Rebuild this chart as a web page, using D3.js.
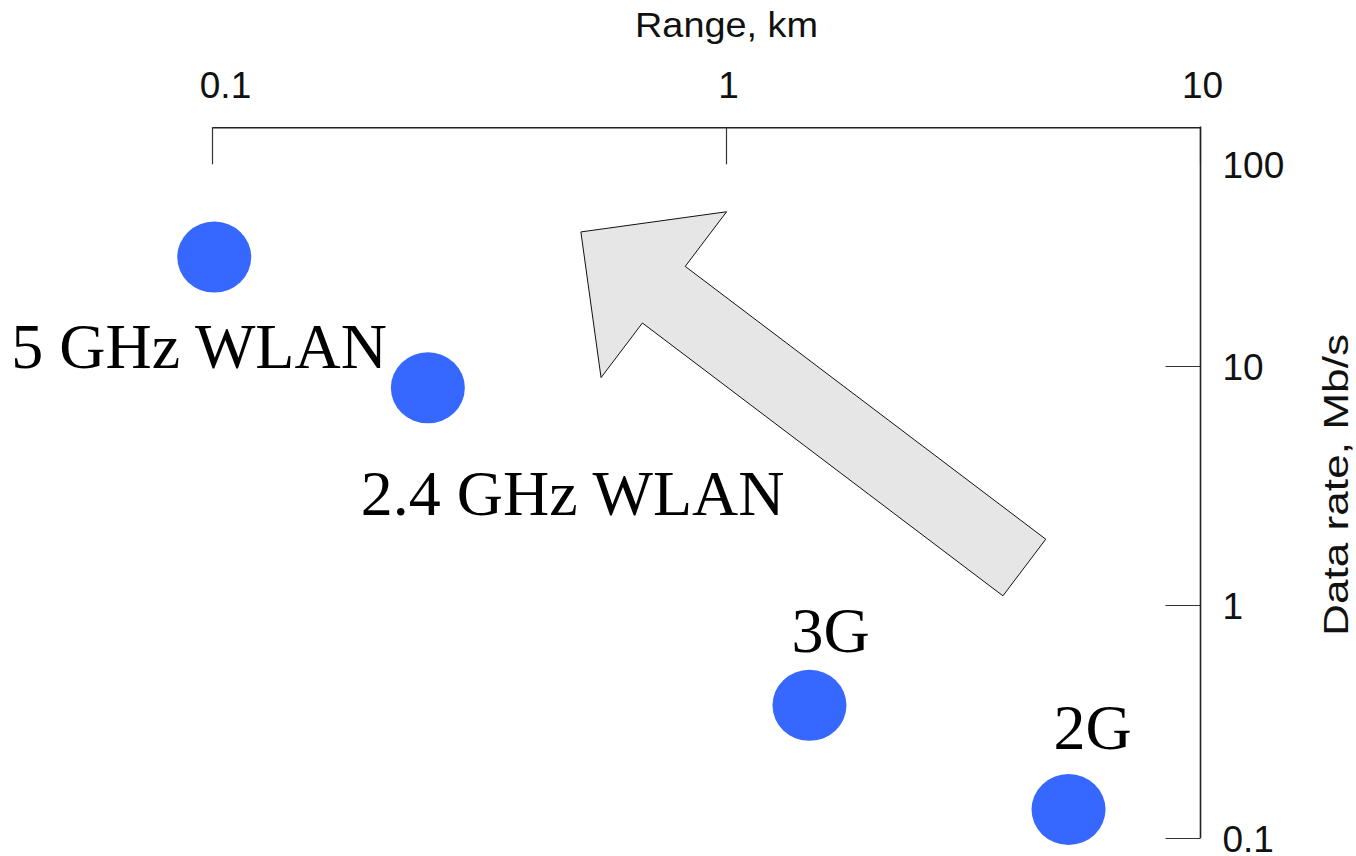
<!DOCTYPE html>
<html>
<head>
<meta charset="utf-8">
<script src="https://cdn.jsdelivr.net/npm/d3@7"></script>
<style>
  body { margin: 0; background: #fff; }
  svg { display: block; }
</style>
</head>
<body>
<svg width="1356" height="856"></svg>
<script>
// technologies, range (km) and data rate (Mb/s)
var techs = ['5 GHz WLAN', '2.4 GHz WLAN', '3G', '2G'];
var ranges = [0.101, 0.263, 1.5, 5.28];
var rates = [34.6, 8.1, 0.371, 0.1325];

var xTicks = [0.1, 1, 10];
var yTicks = [100, 10, 1, 0.1];

// trend arrow, in data units (range, rate)
var trendFrom = [4.26, 1.435];
var trendTo = [0.522, 46.1];

// label placement relative to each dot (px)
var labelOffset = [[-203, 111], [-67, 127], [-18, -53], [-15, -61]];

var svg = d3.select('svg');

// the original axes are hand drawn, so decades are not evenly spaced
var x = d3.scaleLog().domain([0.1, 1, 10]).range([212, 726, 1200]);
var y = d3.scaleLog().domain([0.1, 1, 10, 100]).range([838, 605, 366, 164]);

var axisTopY = 127.3,
  axisRightX = 1200.5;

// top axis
var gx = svg.append('g')
  .attr('transform', 'translate(0,' + axisTopY + ')')
  .call(d3.axisTop(x)
    .tickValues(xTicks)
    .tickFormat(d3.format('~g'))
    .tickSizeInner(-37)
    .tickSizeOuter(0)
    .tickPadding(29));

gx.select('.domain').attr('stroke', '#222').attr('stroke-width', 1.6);
gx.selectAll('.tick line').attr('stroke', '#333').attr('stroke-width', 1.2);
gx.selectAll('.tick text')
  .attr('font-family', 'Liberation Sans, Arial, sans-serif')
  .attr('font-size', 37)
  .attr('fill', '#111')
  .attr('dx', function(d) { return d === 0.1 ? 13 : 2; });

// right axis: ticks point inward, labels outside
var gy = svg.append('g')
  .attr('transform', 'translate(' + axisRightX + ',0)')
  .call(d3.axisRight(y)
    .tickValues(yTicks)
    .tickFormat(d3.format('~g'))
    .tickSizeInner(-35)
    .tickSizeOuter(0)
    .tickPadding(22));

gy.select('.domain').remove();
gy.selectAll('.tick').filter(function(d) { return d === 100; }).select('line').remove();
gy.selectAll('.tick line').attr('stroke', '#333').attr('stroke-width', 1.2);
gy.selectAll('.tick text')
  .attr('font-family', 'Liberation Sans, Arial, sans-serif')
  .attr('font-size', 37)
  .attr('fill', '#111')
  .attr('dy', '0.37em');

gy.append('line')
  .attr('x1', 0).attr('x2', 0)
  .attr('y1', axisTopY - 0.8)
  .attr('y2', y(0.1))
  .attr('stroke', '#222')
  .attr('stroke-width', 1.6);

// axis titles
svg.append('text')
  .attr('x', 726.5)
  .attr('y', 37.3)
  .attr('text-anchor', 'middle')
  .attr('font-family', 'Liberation Sans, Arial, sans-serif')
  .attr('font-size', 34.5)
  .attr('fill', '#111')
  .attr('textLength', 183)
  .attr('lengthAdjust', 'spacingAndGlyphs')
  .text('Range, km');

svg.append('text')
  .attr('transform', 'translate(1348,485) rotate(-90)')
  .attr('text-anchor', 'middle')
  .attr('font-family', 'Liberation Sans, Arial, sans-serif')
  .attr('font-size', 35)
  .attr('fill', '#111')
  .attr('textLength', 302)
  .attr('lengthAdjust', 'spacingAndGlyphs')
  .text('Data rate, Mb/s');

// trend arrow
function arrowPoints(p0, p1, shaftW, headW, headL) {
  var dx = p1[0] - p0[0], dy = p1[1] - p0[1],
    len = Math.sqrt(dx * dx + dy * dy),
    ux = dx / len, uy = dy / len,
    nx = -uy, ny = ux,
    bx = p1[0] - ux * headL, by = p1[1] - uy * headL,
    s = shaftW / 2, h = headW / 2;
  return [
    [p0[0] + nx * s, p0[1] + ny * s],
    [bx + nx * s, by + ny * s],
    [bx + nx * h, by + ny * h],
    p1,
    [bx - nx * h, by - ny * h],
    [bx - nx * s, by - ny * s],
    [p0[0] - nx * s, p0[1] - ny * s]
  ];
}

var arrow = arrowPoints(
  [x(trendFrom[0]), y(trendFrom[1])],
  [x(trendTo[0]), y(trendTo[1])],
  71, 208, 104);

svg.append('path')
  .attr('d', d3.line()(arrow) + 'Z')
  .attr('fill', '#e6e6e6')
  .attr('stroke', '#111')
  .attr('stroke-width', 1)
  .attr('stroke-linejoin', 'miter');

// dots
var pts = techs.map(function(t, i) {
  return { name: t, range: ranges[i], rate: rates[i], off: labelOffset[i] };
});

svg.append('g')
  .selectAll('ellipse')
  .data(pts)
  .enter()
  .append('ellipse')
  .attr('cx', function(d) { return x(d.range); })
  .attr('cy', function(d) { return y(d.rate); })
  .attr('rx', 37)
  .attr('ry', 35.5)
  .attr('fill', '#3668ff');

svg.append('g')
  .selectAll('text')
  .data(pts)
  .enter()
  .append('text')
  .attr('x', function(d) { return x(d.range) + d.off[0]; })
  .attr('y', function(d) { return y(d.rate) + d.off[1]; })
  .attr('font-family', 'Liberation Serif, Times New Roman, serif')
  .attr('font-size', 64)
  .attr('fill', '#000')
  .text(function(d) { return d.name; });
</script>
</body>
</html>
